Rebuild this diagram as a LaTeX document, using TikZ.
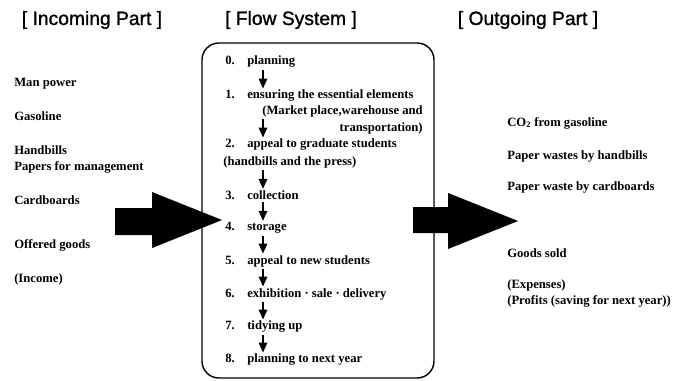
\documentclass[tikz,border=0pt]{standalone}
\usepackage{fontspec}
\setmainfont{Liberation Serif}
\setsansfont{Liberation Sans}
\newfontfamily\headfont{Liberation Sans}[FakeBold=1.2]
\usetikzlibrary{arrows.meta}

\begin{document}
\begin{tikzpicture}[
    x=0.025cm, y=-0.025cm,
    heading/.style={font=\headfont\fontsize{13.7}{16}\selectfont, inner sep=0pt},
    item/.style={font=\bfseries\fontsize{9}{11}\selectfont, anchor=west, inner sep=0pt},
    stepline/.style={-{Triangle[length=7pt,width=6pt]}, line width=1pt,
      shorten <=1.5pt, shorten >=1pt},
    bigarrow/.style={fill=black},
    flowbox/.style={draw, line width=1pt, rounded corners=12pt},
  ]
    \useasboundingbox (0,0) rectangle (681,380);

    % Headings
    \node[heading] (hIn)   at (92,20)  {[ Incoming Part ]};
    \node[heading] (hFlow) at (291,20) {[ Flow System ]};
    \node[heading] (hOut)  at (528,20) {[ Outgoing Part ]};

    % Incoming part
    \node[item] (in1) at (14,84)  {Man power};
    \node[item] (in2) at (14,116) {Gasoline};
    \node[item] (in3) at (14,150) {Handbills};
    \node[item] (in4) at (14,167) {Papers for management};
    \node[item] (in5) at (14,200) {Cardboards};
    \node[item] (in6) at (14,245) {Offered goods};
    \node[item] (in7) at (14,279) {(Income)};

    % Flow system
    \draw[flowbox] (202,43) rectangle (434,378);

    \node[item] (s0) at (225,62)  {\makebox[5.5mm][l]{0.}planning};
    \node[item] (s1) at (225,96)  {\makebox[5.5mm][l]{1.}ensuring the essential elements};
    \node[item] (m1) at (262,111) {(Market place,warehouse and};
    \node[item, anchor=east] (t1) at (m1.east |- 0,128) {transportation)};
    \node[item] (s2) at (225,145) {\makebox[5.5mm][l]{2.}appeal to graduate students};
    \node[item] (h2) at (223,162) {(handbills and the press)};
    \node[item] (s3) at (225,195) {\makebox[5.5mm][l]{3.}collection};
    \node[item] (s4) at (225,228) {\makebox[5.5mm][l]{4.}storage};
    \node[item] (s5) at (225,261) {\makebox[5.5mm][l]{5.}appeal to new students};
    \node[item] (s6) at (225,294) {\makebox[5.5mm][l]{6.}exhibition · sale · delivery};
    \node[item] (s7) at (225,327) {\makebox[5.5mm][l]{7.}tidying up};
    \node[item] (s8) at (225,360) {\makebox[5.5mm][l]{8.}planning to next year};

    \coordinate (ax) at (263,0);
    \draw[stepline] (s0.south -| ax) -- (s1.north -| ax);
    \draw[stepline] (m1.south -| ax) -- (s2.north -| ax);
    \draw[stepline] (h2.south -| ax) -- (s3.north -| ax);
    \draw[stepline] (s3.south -| ax) -- (s4.north -| ax);
    \draw[stepline] (s4.south -| ax) -- (s5.north -| ax);
    \draw[stepline] (s5.south -| ax) -- (s6.north -| ax);
    \draw[stepline] (s6.south -| ax) -- (s7.north -| ax);
    \draw[stepline] (s7.south -| ax) -- (s8.north -| ax);

    % Big arrows in and out
    \fill[bigarrow] (115,208) -- (152,208) -- (152,192) -- (222,220)
      -- (152,248) -- (152,235) -- (115,235) -- cycle;
    \fill[bigarrow] (413,207) -- (448,207) -- (448,193) -- (518,221)
      -- (448,249) -- (448,233) -- (413,233) -- cycle;

    % Outgoing part
    \node[item] (out1) at (507,123) {CO\textsubscript{2} from gasoline};
    \node[item] (out2) at (507,156) {Paper wastes by handbills};
    \node[item] (out3) at (507,187) {Paper waste by cardboards};
    \node[item] (out4) at (507,253) {Goods sold};
    \node[item] (out5) at (507,285) {(Expenses)};
    \node[item] (out6) at (507,301) {(Profits (saving for next year))};
\end{tikzpicture}
\end{document}
